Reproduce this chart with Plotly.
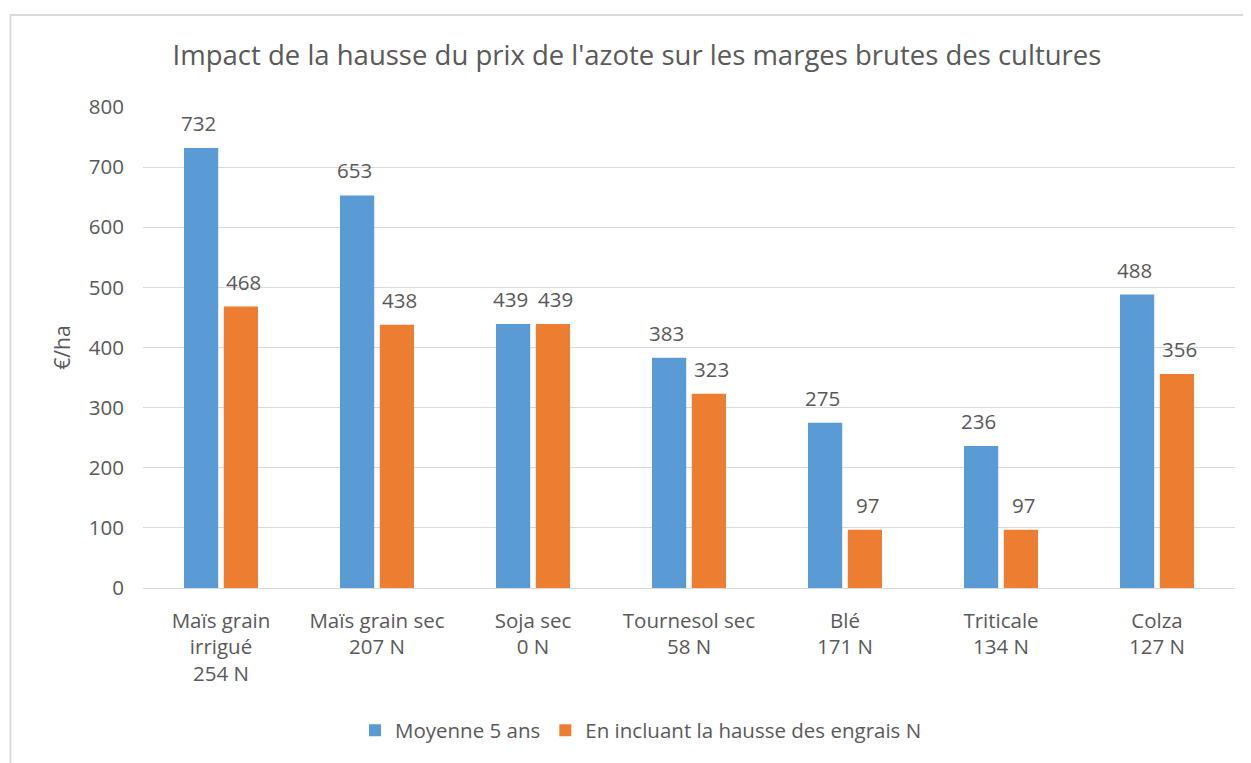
import plotly.graph_objects as go

categories = ["Maïs grain<br>irrigué<br>254 N", "Maïs grain sec<br>207 N", "Soja sec<br>0 N",
              "Tournesol sec<br>58 N", "Blé<br>171 N", "Triticale<br>134 N", "Colza<br>127 N"]
moyenne_5_ans = [732, 653, 439, 383, 275, 236, 488]
avec_hausse = [468, 438, 439, 323, 97, 97, 356]
series_names = ["Moyenne 5 ans", "En incluant la hausse des engrais N"]
y_ticks = [0, 100, 200, 300, 400, 500, 600, 700, 800]

BLUE = "#5B9BD5"
ORANGE = "#ED7D31"
GREY = "#595959"
FONT = "Open Sans"

OFF = 8  # page body margin
W, H = 1251 - OFF, 763 - OFF
L, R, T, B = 143 - OFF, 16, 107 - OFF, 173
pw = W - L - R
ph = H - T - B

fig = go.Figure()
fig.add_trace(go.Bar(x=categories, y=moyenne_5_ans, name=series_names[0],
                     marker=dict(color=BLUE, line=dict(width=0))))
fig.add_trace(go.Bar(x=categories, y=avec_hausse, name=series_names[1],
                     marker=dict(color=ORANGE, line=dict(width=0))))

for vals, shift in ((moyenne_5_ans, -22.5), (avec_hausse, 22.5)):
    for c, v in zip(categories, vals):
        fig.add_annotation(x=c, y=v, text=str(v), showarrow=False, xshift=shift,
                           yshift=25, yanchor="middle",
                           font=dict(family=FONT, size=20.5, color=GREY))

def px_x(p):
    return (p - OFF - L) / pw

def px_y(p):
    return (H + OFF - B - p) / ph

fig.add_shape(type="rect", xref="paper", yref="paper",
              x0=px_x(10.5), x1=px_x(1270), y0=px_y(14.5), y1=px_y(790),
              line=dict(color="#D9D9D9", width=2), fillcolor="rgba(0,0,0,0)", layer="below")

fig.update_layout(
    width=W, height=H,
    margin=dict(l=L, r=R, t=T, b=B),
    paper_bgcolor="white", plot_bgcolor="white",
    barmode="group", bargap=0.49, bargroupgap=0.14,
    font=dict(family=FONT, size=20.5, color=GREY),
    title=dict(text="Impact de la hausse du prix de l'azote sur les marges brutes des cultures",
               x=px_x(637), xanchor="center", xref="paper", y=1 - (55 - OFF) / H, yanchor="middle",
               font=dict(family=FONT, size=27.5, color=GREY)),
    showlegend=True,
    legend=dict(orientation="h", x=px_x(641), xanchor="center", y=px_y(733), yanchor="middle",
                font=dict(family=FONT, size=20.5, color=GREY), itemsizing="constant",
                traceorder="normal"),
    xaxis=dict(showgrid=False, showline=True, linecolor="#D9D9D9", linewidth=1,
               ticks="", ticklabelstandoff=14, tickfont=dict(family=FONT, size=20.5, color=GREY)),
    yaxis=dict(range=[0, 800], tickvals=y_ticks, showgrid=True, gridcolor="#D9D9D9", gridwidth=1,
               zeroline=False, showline=False, ticks="", ticklabelstandoff=18,
               tickfont=dict(family=FONT, size=20.5, color=GREY),
               title=dict(text="€/ha", standoff=12, font=dict(family=FONT, size=21, color=GREY))),
)

fig.write_html("out.html")
